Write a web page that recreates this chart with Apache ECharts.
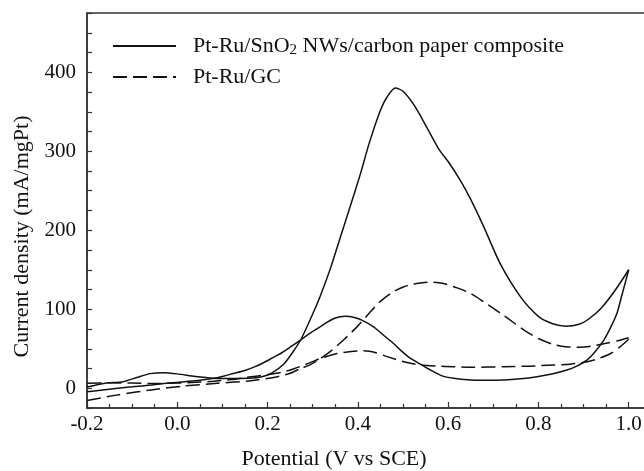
<!DOCTYPE html>
<html>
<head>
<meta charset="utf-8">
<script src="https://cdn.jsdelivr.net/npm/echarts@6/dist/echarts.min.js"></script>
<style>html,body{margin:0;padding:0;background:#fff}#c{width:644px;height:471px}</style>
</head>
<body>
<div id="c"></div>
<script>
// Pt-Ru/SnO2 NWs/carbon paper composite, forward scan
const snFwdX = [-0.2,-0.16,-0.12,-0.09,-0.06,-0.03,0.0,0.04,0.08,0.12,0.16,0.19,0.21,0.235,0.255,0.275,0.30,0.317,0.34,0.36,0.383,0.406,0.425,0.45,0.465,0.483,0.50,0.525,0.553,0.58,0.60,0.627,0.65,0.68,0.715,0.76,0.80,0.83,0.861,0.89,0.91,0.94,0.97,1.0];
const snFwdY = [1.5,6.3,8.3,13.5,18.5,19.7,18.2,15,12.8,12.4,12.6,15,19.5,30,45,63,94,117,153,189,230,272,310,352,369,380,376,358,330,302,287,263,239,203,158,116,91,82,78.6,81,87,102,124,150];
// Pt-Ru/SnO2 NWs/carbon paper composite, reverse scan
const snRevX = [1.0,0.985,0.974,0.96,0.945,0.925,0.908,0.885,0.863,0.83,0.797,0.76,0.723,0.68,0.65,0.612,0.585,0.561,0.54,0.516,0.495,0.479,0.455,0.435,0.41,0.39,0.372,0.35,0.33,0.317,0.295,0.273,0.25,0.229,0.215,0.19,0.171,0.15,0.126,0.10,0.082,0.05,0.016,-0.02,-0.058,-0.10,-0.132,-0.17,-0.2];
const snRevY = [150,118,95,77,61,46,36,28,23,18,14.6,12,10.5,10.2,10.5,12.6,16,23,30,38,48,56.7,68,77.7,86,90,91,89,83,78,70,61,52,44,39.8,32,27,22.5,18.9,15,12.6,10,8.3,6.5,4.2,1.8,0,-2.5,-4.5];
// Pt-Ru/GC, forward scan
const gcFwdX = [-0.2,-0.132,-0.058,0.016,0.089,0.163,0.222,0.25,0.274,0.295,0.317,0.34,0.37,0.398,0.425,0.45,0.475,0.502,0.53,0.561,0.59,0.62,0.65,0.68,0.716,0.75,0.775,0.80,0.83,0.86,0.89,0.92,0.95,0.975,1.0];
const gcFwdY = [-15.5,-8.4,-2.1,2.9,6.3,9.6,14.6,19,25.2,30,37.5,47,62,77.7,95,110,121,128.5,132.5,134.4,132.5,127,120,109,95,81,71,63,56,52.5,52,53.5,57,60,64];
// Pt-Ru/GC, reverse scan
const gcRevX = [1.0,0.98,0.96,0.935,0.908,0.87,0.834,0.78,0.723,0.649,0.612,0.575,0.539,0.502,0.465,0.44,0.413,0.385,0.354,0.335,0.317,0.29,0.26,0.237,0.2,0.163,0.12,0.08,0.04,0.0,-0.05,-0.1,-0.15,-0.2];
const gcRevY = [62,52,44,38,33.5,30.5,29.4,28,27.2,26.5,27.2,28,29.4,33.5,40,45,47.4,46.5,44,41,37.8,31.5,25,21,17,14.6,11,8.8,7.5,6.5,6,6.5,7,6.3];

const seriesNames = ['Pt-Ru/SnO2 NWs/carbon paper composite', 'Pt-Ru/GC'];
const xTickLabels = ['-0.2','0.0','0.2','0.4','0.6','0.8','1.0'];
const yTickLabels = ['0','100','200','300','400'];

const pairs = (xs, ys) => xs.map((x, i) => [x, ys[i]]);
const FONT = 'Liberation Serif';
const INK = '#111';
const AX = '#333';

const mk = (name, xs, ys, dashed) => ({
  name, type: 'line', data: pairs(xs, ys), smooth: 0.25, symbol: 'none', showSymbol: false,
  lineStyle: { color: INK, width: 1.5, type: dashed ? [14, 6] : 'solid' },
  itemStyle: { color: INK }, z: 3, animation: false
});

const chart = echarts.init(document.getElementById('c'));
chart.setOption({
  animation: false,
  backgroundColor: '#fff',
  grid: { left: 87, right: -75, top: 13, bottom: 63, outerBoundsMode: 'none', containLabel: false, show: true, borderColor: AX, borderWidth: 1.5, backgroundColor: 'transparent' },
  legend: {
    orient: 'vertical', left: 112, top: 34, padding: 0, itemWidth: 63, itemHeight: 14, itemGap: 8,
    data: seriesNames,
    itemStyle: { opacity: 0 },
    formatter: n => n === seriesNames[0] ? '{a|Pt-Ru/SnO}{s|2}{a| NWs/carbon paper composite}' : '{a|' + n + '}',
    textStyle: {
      fontFamily: FONT, fontSize: 22, color: INK, padding: [0, 0, 0, 12],
      rich: {
        a: { fontFamily: FONT, fontSize: 22, color: INK, lineHeight: 24 },
        s: { fontFamily: FONT, fontSize: 15, color: INK, verticalAlign: 'bottom', padding: [9, 0, 0, 0], lineHeight: 24 }
      }
    }
  },
  xAxis: {
    type: 'value', min: -0.2, max: 1.2, interval: 0.2,
    name: 'Potential (V vs SCE)', nameLocation: 'middle', nameGap: 40,
    nameTextStyle: { fontFamily: FONT, fontSize: 22, color: INK, padding: [0, 138, 0, 0] },
    axisLine: { onZero: false, lineStyle: { color: AX, width: 1.5 } },
    axisTick: { inside: true, length: 6, lineStyle: { color: AX, width: 1.2 } },
    minorTick: { show: true, splitNumber: 4, length: 4, lineStyle: { color: AX, width: 1.2 } },
    splitLine: { show: false },
    axisLabel: {
      margin: 6, fontFamily: FONT, fontSize: 21, color: INK,
      formatter: v => { const s = v.toFixed(1); return xTickLabels.includes(s) ? s : ''; }
    }
  },
  yAxis: {
    type: 'value', min: -25, max: 475, interval: 25,
    name: 'Current density (mA/mgPt)', nameLocation: 'middle', nameGap: 53,
    nameTextStyle: { fontFamily: FONT, fontSize: 22, color: INK, padding: [0, 52, 0, 0] },
    axisLine: { onZero: false, lineStyle: { color: AX, width: 1.5 } },
    axisTick: { inside: true, length: 5, lineStyle: { color: AX, width: 1.2 } },
    splitLine: { show: false },
    axisLabel: {
      margin: 11, fontFamily: FONT, fontSize: 21, color: INK,
      formatter: v => { const s = String(Math.round(v)); return yTickLabels.includes(s) && Math.abs(v - Math.round(v)) < 1e-6 ? s : ''; }
    }
  },
  series: [
    mk(seriesNames[0], snFwdX, snFwdY, false),
    mk(seriesNames[0], snRevX, snRevY, false),
    mk(seriesNames[1], gcFwdX, gcFwdY, true),
    mk(seriesNames[1], gcRevX, gcRevY, true)
  ]
});
</script>
</body>
</html>
